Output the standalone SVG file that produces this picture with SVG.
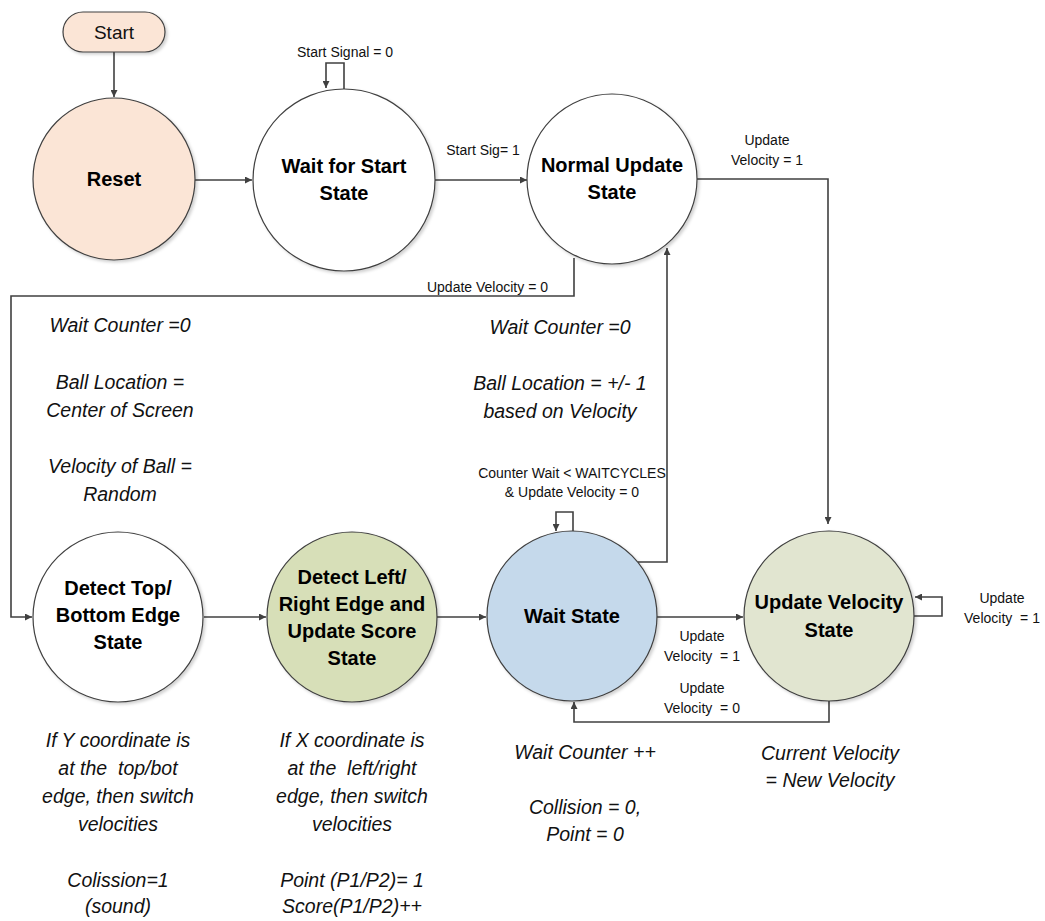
<svg xmlns="http://www.w3.org/2000/svg" width="1045" height="921" viewBox="0 0 1045 921">
<style>
.node{stroke:#404040;stroke-width:1.2;}
.nl{font-family:"Liberation Sans",Arial,sans-serif;font-weight:bold;font-size:20px;fill:#000;text-anchor:middle;}
.lbl{font-family:"Liberation Sans",Arial,sans-serif;font-size:14px;fill:#111;text-anchor:middle;white-space:pre;}
.note{font-family:"Liberation Sans",Arial,sans-serif;font-style:italic;font-size:19.5px;fill:#111;text-anchor:middle;white-space:pre;}
.edge{fill:none;stroke:#404040;stroke-width:1.6;}
</style>
<defs>
<marker id="ah" viewBox="0 0 10 10" refX="10" refY="5" markerWidth="7" markerHeight="7" markerUnits="userSpaceOnUse" orient="auto">
<path d="M0,0 L10,5 L0,10 z" fill="#404040"/>
</marker>
<filter id="sh" x="-10%" y="-10%" width="130%" height="130%">
<feDropShadow dx="2" dy="2" stdDeviation="1.5" flood-color="#000" flood-opacity="0.18"/>
</filter>
</defs>
<rect width="1045" height="921" fill="#fff"/>

<g id="connectors">
<path class="edge" d="M114,52 V97" marker-end="url(#ah)"/>
<path class="edge" d="M195,180 H252" marker-end="url(#ah)"/>
<path class="edge" d="M344,89 V63 H326 V88" marker-end="url(#ah)"/>
<path class="edge" d="M435,180 H527" marker-end="url(#ah)"/>
<path class="edge" d="M697,179 H828 V524" marker-end="url(#ah)"/>
<path class="edge" d="M574,258 V296 H11 V617 H32" marker-end="url(#ah)"/>
<path class="edge" d="M204,617 H266" marker-end="url(#ah)"/>
<path class="edge" d="M437,617 H486" marker-end="url(#ah)"/>
<path class="edge" d="M638,562 H667 V248" marker-end="url(#ah)"/>
<path class="edge" d="M573,531 V512 H556 V531" marker-end="url(#ah)"/>
<path class="edge" d="M657,617 H743" marker-end="url(#ah)"/>
<path class="edge" d="M914,616 H942 V597 H915" marker-end="url(#ah)"/>
<path class="edge" d="M829,701 V722 H574 V702" marker-end="url(#ah)"/>
<text class="lbl" x="345" y="57">Start Signal = 0</text>
<text class="lbl" x="483" y="155">Start Sig= 1</text>
<text class="lbl" x="767" y="145">Update</text>
<text class="lbl" x="767" y="165">Velocity = 1</text>
<text class="lbl" x="548" y="292" style="text-anchor:end">Update Velocity = 0</text>
<text class="lbl" x="572" y="478">Counter Wait &lt; WAITCYCLES</text>
<text class="lbl" x="572" y="497">&amp; Update Velocity = 0</text>
<text class="lbl" x="702" y="641">Update</text>
<text class="lbl" x="702" y="661">Velocity  = 1</text>
<text class="lbl" x="702" y="693">Update</text>
<text class="lbl" x="702" y="713">Velocity  = 0</text>
<text class="lbl" x="1002" y="603">Update</text>
<text class="lbl" x="1002" y="623">Velocity  = 1</text>
</g>

<g id="start">
<rect class="node" x="63" y="12" width="102" height="40" rx="20" fill="#fbe5d6" filter="url(#sh)"/>
<text x="114" y="39" style="font-family:'Liberation Sans',Arial,sans-serif;font-size:19px;text-anchor:middle;fill:#111">Start</text>
</g>

<g id="reset">
<circle class="node" cx="114" cy="179" r="81" fill="#fbe5d6" filter="url(#sh)"/>
<text class="nl" x="114" y="186">Reset</text>
</g>

<g id="wait-for-start">
<circle class="node" cx="344" cy="180" r="91" fill="#fff" filter="url(#sh)"/>
<text class="nl" x="344" y="173">Wait for Start</text>
<text class="nl" x="344" y="200">State</text>
</g>

<g id="normal-update">
<circle class="node" cx="612" cy="179" r="85" fill="#fff" filter="url(#sh)"/>
<text class="nl" x="612" y="172">Normal Update</text>
<text class="nl" x="612" y="199">State</text>
</g>

<g id="detect-top-bottom">
<circle class="node" cx="118" cy="617" r="85" fill="#fff" filter="url(#sh)"/>
<text class="nl" x="118" y="595">Detect Top/</text>
<text class="nl" x="118" y="622">Bottom Edge</text>
<text class="nl" x="118" y="649">State</text>
</g>

<g id="detect-left-right">
<circle class="node" cx="352" cy="617" r="85" fill="#d7dfb8" filter="url(#sh)"/>
<text class="nl" x="352" y="584">Detect Left/</text>
<text class="nl" x="352" y="611">Right Edge and</text>
<text class="nl" x="352" y="638">Update Score</text>
<text class="nl" x="352" y="665">State</text>
</g>

<g id="wait-state">
<circle class="node" cx="572" cy="616" r="85" fill="#c5d9eb" filter="url(#sh)"/>
<text class="nl" x="572" y="623">Wait State</text>
</g>

<g id="update-velocity">
<circle class="node" cx="829" cy="616" r="85" fill="#e1e5d0" filter="url(#sh)"/>
<text class="nl" x="829" y="609">Update Velocity</text>
<text class="nl" x="829" y="637">State</text>
</g>

<g id="notes">
<text class="note" x="120" y="332">Wait Counter =0</text>
<text class="note" x="120" y="389">Ball Location =</text>
<text class="note" x="120" y="417">Center of Screen</text>
<text class="note" x="120" y="473">Velocity of Ball =</text>
<text class="note" x="120" y="501">Random</text>

<text class="note" x="560" y="334">Wait Counter =0</text>
<text class="note" x="560" y="390">Ball Location = +/- 1</text>
<text class="note" x="560" y="418">based on Velocity</text>

<text class="note" x="118" y="747">If Y coordinate is</text>
<text class="note" x="118" y="775">at the  top/bot</text>
<text class="note" x="118" y="803">edge, then switch</text>
<text class="note" x="118" y="831">velocities</text>
<text class="note" x="118" y="887">Colission=1</text>
<text class="note" x="118" y="913">(sound)</text>

<text class="note" x="352" y="747">If X coordinate is</text>
<text class="note" x="352" y="775">at the  left/right</text>
<text class="note" x="352" y="803">edge, then switch</text>
<text class="note" x="352" y="831">velocities</text>
<text class="note" x="352" y="887">Point (P1/P2)= 1</text>
<text class="note" x="352" y="913">Score(P1/P2)++</text>

<text class="note" x="585" y="759">Wait Counter ++</text>
<text class="note" x="585" y="814">Collision = 0,</text>
<text class="note" x="585" y="841">Point = 0</text>

<text class="note" x="830" y="760">Current Velocity</text>
<text class="note" x="830" y="787">= New Velocity</text>
</g>
</svg>
